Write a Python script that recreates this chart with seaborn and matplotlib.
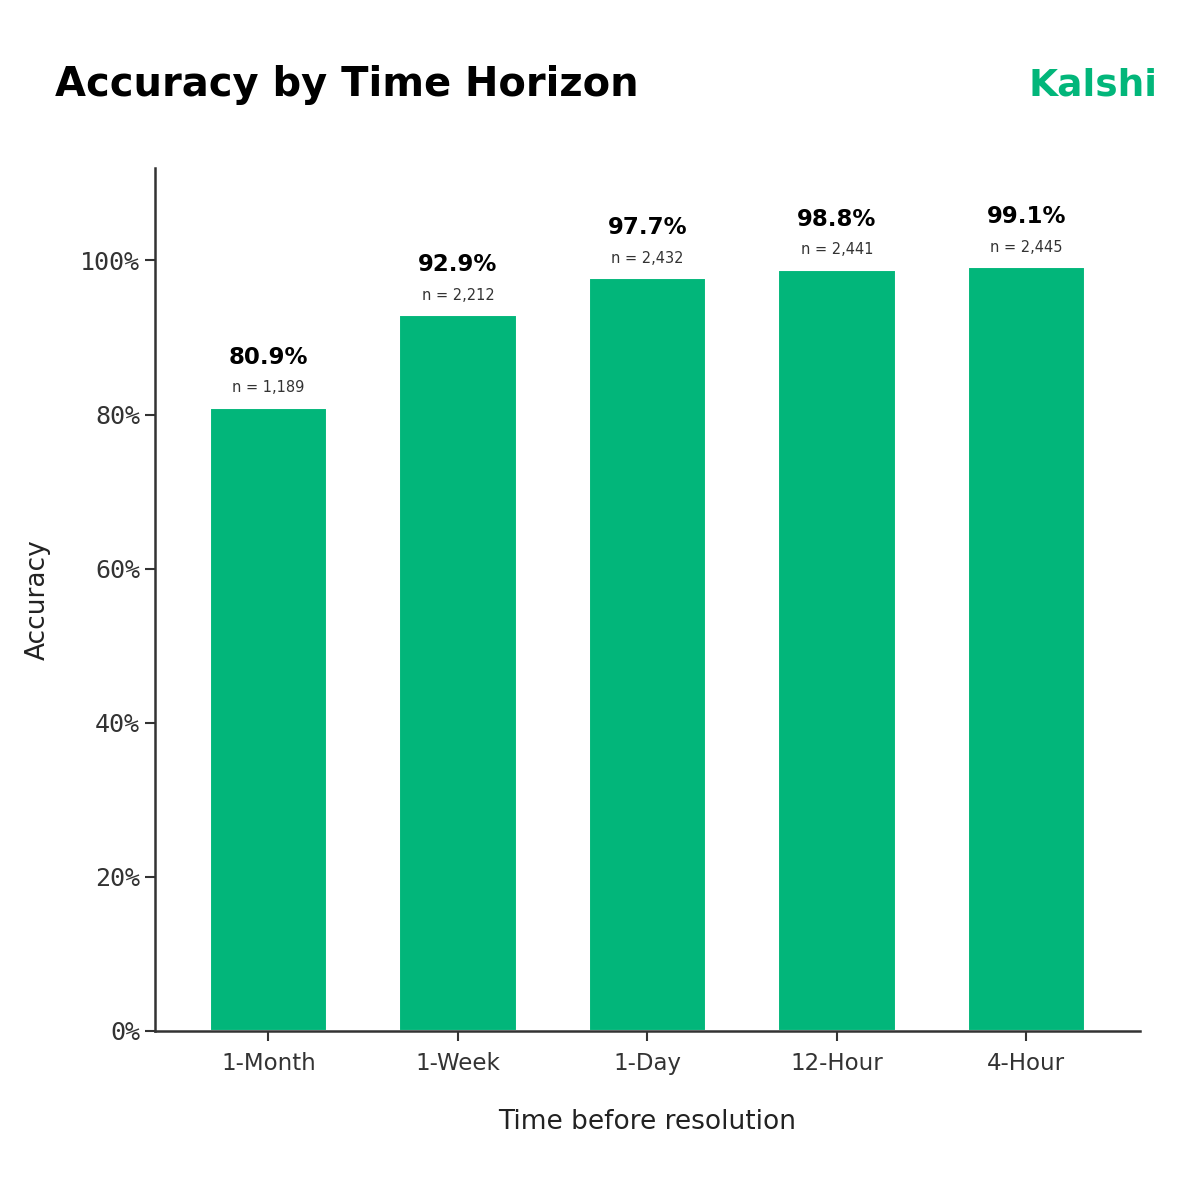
import matplotlib
matplotlib.use("Agg")
import matplotlib.pyplot as plt
import matplotlib.ticker as mticker
import pandas as pd
import seaborn as sns

# Chart data
horizons = ["1-Month", "1-Week", "1-Day", "12-Hour", "4-Hour"]
accuracy = [80.9, 92.9, 97.7, 98.8, 99.1]
sample_sizes = [1189, 2212, 2432, 2441, 2445]

green = "#02B67A"

df = pd.DataFrame({"horizon": horizons, "accuracy": accuracy, "n": sample_sizes})

sns.set_theme(style="white")
plt.rcParams['font.family'] = ['DejaVu Sans']

fig = plt.figure(figsize=(12, 12), dpi=100)
ax = fig.add_axes([0.129, 0.141, 0.821, 0.719])

sns.barplot(data=df, x="horizon", y="accuracy", color=green, saturation=1,
            width=0.62, edgecolor="white", linewidth=1.5, ax=ax)

ax.set_ylim(0, 112)
ax.set_xlim(-0.6, 4.6)
ax.yaxis.set_major_locator(mticker.MultipleLocator(20))
ax.yaxis.set_major_formatter(mticker.FuncFormatter(lambda v, p: f"{v:.0f}%"))

for i, (acc, n) in enumerate(zip(accuracy, sample_sizes)):
    ax.annotate(f"n = {n:,}", (i, acc), xytext=(0, 9), textcoords="offset points",
                ha="center", va="bottom", fontsize=10.5, color="#333333")
    ax.annotate(f"{acc:.1f}%", (i, acc), xytext=(0, 28), textcoords="offset points",
                ha="center", va="bottom", fontsize=16.5, fontweight="bold", color="black")

sns.despine(ax=ax)
for side in ["left", "bottom"]:
    ax.spines[side].set_color("#333333")
    ax.spines[side].set_linewidth(1.8)

ax.tick_params(axis="both", which="major", direction="out", length=7, width=1.5,
               color="#333333", bottom=True, left=True)
ax.tick_params(axis="x", pad=8)
for lab in ax.get_yticklabels():
    lab.set_fontfamily("DejaVu Sans Mono")
    lab.set_fontsize(18)
    lab.set_color("#333333")
for lab in ax.get_xticklabels():
    lab.set_fontsize(16.5)
    lab.set_color("#333333")

ax.set_xlabel("Time before resolution", fontsize=19, color="#222222", labelpad=25)
ax.set_ylabel("Accuracy", fontsize=19, color="#222222", labelpad=21)

fig.text(0.046, 0.929, "Accuracy by Time Horizon", fontsize=28.8, fontweight="heavy",
         color="black", ha="left", va="center")
fig.text(0.965, 0.929, "Kalshi", fontsize=27, fontweight="bold",
         color=green, ha="right", va="center")

fig.savefig("out.png", dpi=100, facecolor="white")
